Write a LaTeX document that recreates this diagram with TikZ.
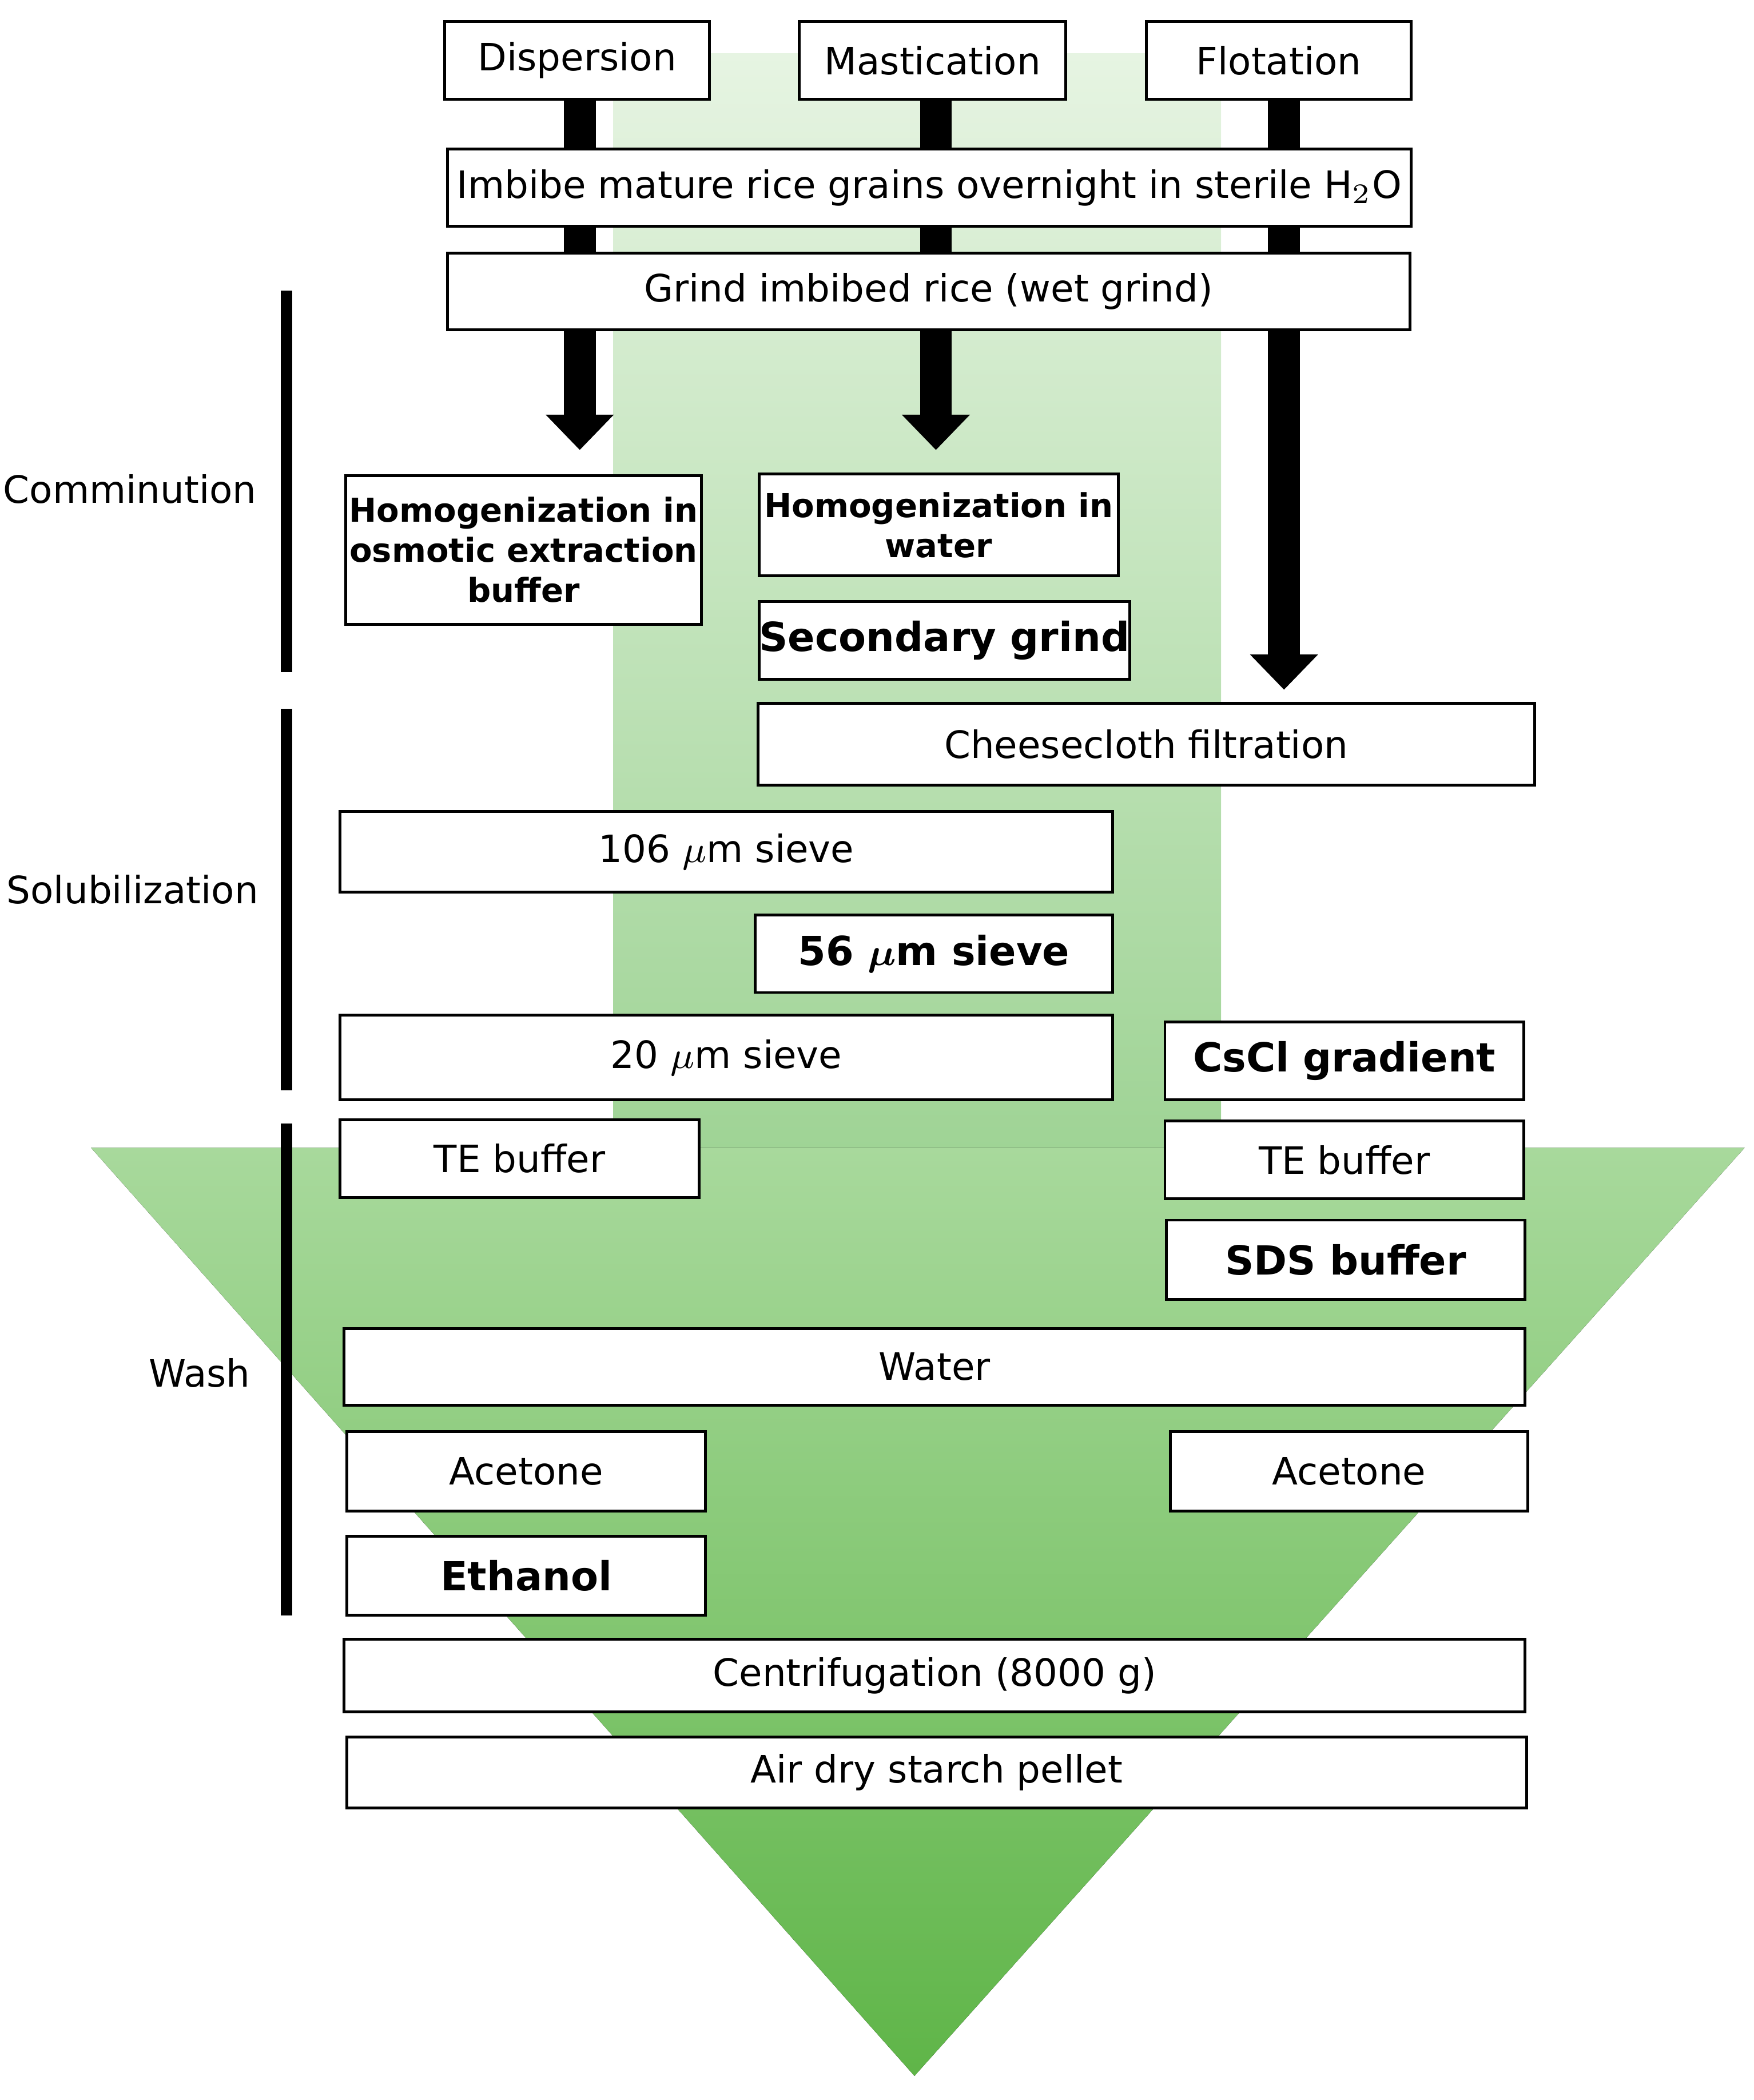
\documentclass[tikz,border=0pt]{standalone}
\usepackage{fontspec}
\setmainfont{DejaVu Sans}
\usetikzlibrary{arrows.meta}
\definecolor{colT}{HTML}{E6F4E2}
\definecolor{colB}{HTML}{9ED394}
\definecolor{triT}{HTML}{A8D99C}
\definecolor{triB}{HTML}{5FB548}
\begin{document}
\begin{tikzpicture}[x=0.01cm,y=-0.01cm,
  box/.style={draw=black,line width=0.6pt,fill=white,inner sep=0pt,font=\fontsize{8}{9.5}\selectfont,align=center},
  bbox/.style={box,font=\fontsize{8.5}{9.5}\selectfont\bfseries\boldmath},
  sbox/.style={box,font=\fontsize{7}{8.5}\selectfont\bfseries},
  big/.style={line width=6.8pt,-{Triangle[width=14pt,length=7.5pt]}},
  bar/.style={line width=2.4pt},
  lab/.style={font=\fontsize{8}{9.5}\selectfont,anchor=center}]
\useasboundingbox (0,0) rectangle (1310,1568);
\fill[top color=colT,bottom color=colB] (458,40) rectangle (912,870);
\fill[top color=triT,bottom color=triB] (68,857) -- (1303,857) -- (683,1550) -- cycle;
\def\B#1#2#3#4#5#6{\node[#2,minimum width=#5*0.01cm-0.6pt,minimum height=#6*0.01cm-0.6pt,anchor=north west] (#1) at (#3,#4) {};}
% headers
\node[box,minimum width=198*0.01cm,minimum height=58*0.01cm,anchor=north west] (disp) at (331,15) {Dispersion};
\node[box,minimum width=199*0.01cm,minimum height=58*0.01cm,anchor=north west] (mast) at (596,15) {Mastication};
\node[box,minimum width=198*0.01cm,minimum height=58*0.01cm,anchor=north west] (flot) at (855,15) {Flotation};
\coordinate (a1) at (433,336);
\coordinate (a2) at (699,336);
\coordinate (a3) at (959,515);
\draw[big] (disp.south -| a1) -- (a1);
\draw[big] (mast.south -| a2) -- (a2);
\draw[big] (flot.south -| a3) -- (a3);
\newcommand\bx[7]{\node[#2,minimum width=#5*0.01cm,minimum height=#6*0.01cm,anchor=north west] (#1) at (#3,#4) {#7};}
\bx{imb}{box}{333}{110}{720}{58}{Imbibe mature rice grains overnight in sterile H$_2$O}
\bx{grd}{box}{333}{188}{719}{57}{Grind imbibed rice (wet grind)}
\bx{hoe}{sbox}{257}{354}{266}{111}{Homogenization in\\osmotic extraction\\buffer}
\bx{how}{sbox}{566}{353}{268}{76}{Homogenization in\\water}
\bx{sec}{bbox}{566}{448}{267}{58}{Secondary grind}
\bx{che}{box}{565}{524}{580}{61}{Cheesecloth filtration}
\bx{s106}{box}{253}{605}{577}{60}{106 $\mu$m sieve}
\bx{s56}{bbox}{563}{682}{267}{58}{56 $\mu$m sieve}
\bx{s20}{box}{253}{757}{577}{63}{20 $\mu$m sieve}
\bx{cs}{bbox}{869}{762}{268}{58}{CsCl gradient}
\bx{tel}{box}{253}{835}{268}{58}{TE buffer}
\bx{ter}{box}{869}{836}{268}{58}{TE buffer}
\bx{sds}{bbox}{870}{910}{268}{59}{SDS buffer}
\bx{wat}{box}{256}{991}{882}{57}{Water}
\bx{acl}{box}{258}{1068}{268}{59}{Acetone}
\bx{acr}{box}{873}{1068}{267}{59}{Acetone}
\bx{eth}{bbox}{258}{1146}{268}{59}{Ethanol}
\bx{cen}{box}{256}{1223}{882}{54}{Centrifugation (8000 g)}
\bx{air}{box}{258}{1296}{881}{53}{Air dry starch pellet}
% stage bars
\coordinate (b1) at (214,217); \coordinate (b2) at (214,502);
\coordinate (b3) at (214,529); \coordinate (b4) at (214,814);
\coordinate (b5) at (214,839); \coordinate (b6) at (214,1206);
\draw[bar] (b1) -- (b2);
\draw[bar] (b3) -- (b4);
\draw[bar] (b5) -- (b6);
\node[lab] (l1) at (97,365) {Comminution};
\node[lab] (l2) at (99,664) {Solubilization};
\node[lab] (l3) at (149,1025) {Wash};
\end{tikzpicture}
\end{document}
